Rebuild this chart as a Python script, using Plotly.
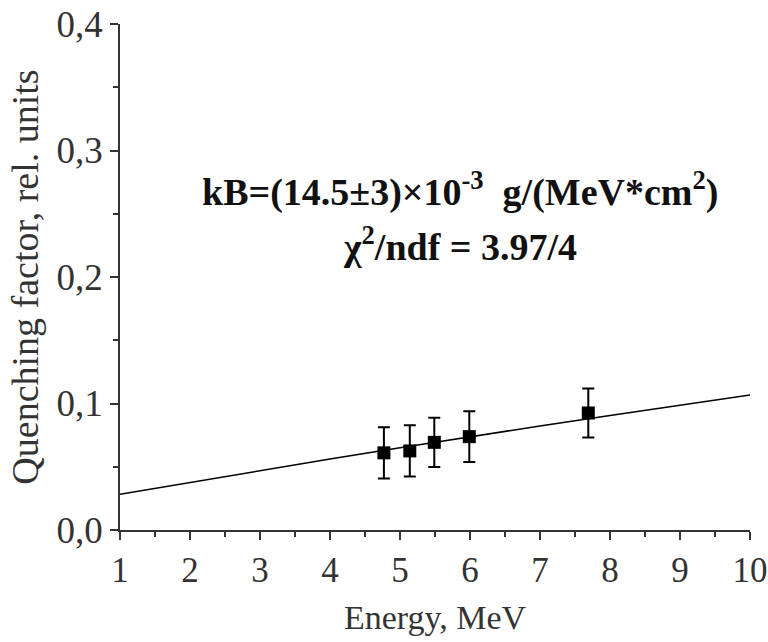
import plotly.graph_objects as go

# Data
energy = [4.77, 5.14, 5.49, 5.99, 7.69]
quench = [0.061, 0.0625, 0.0693, 0.0738, 0.0925]
quench_err = [0.0203, 0.0203, 0.0195, 0.020, 0.0194]

fit_energy = [1, 2, 3, 4, 5, 6, 7, 8, 9, 10]
fit_quench = [0.0282, 0.0377, 0.0470, 0.0561, 0.0650, 0.0737, 0.0822, 0.0905, 0.0987, 0.1067]

x_ticks = [1, 2, 3, 4, 5, 6, 7, 8, 9, 10]
y_ticks = [0.0, 0.1, 0.2, 0.3, 0.4]

FONT = "Liberation Serif, Times New Roman, DejaVu Serif, serif"

fig = go.Figure()
fig.add_trace(go.Scatter(
    x=fit_energy, y=fit_quench, mode="lines",
    line=dict(color="black", width=1.6), showlegend=False, hoverinfo="skip"))
fig.add_trace(go.Scatter(
    x=energy, y=quench, mode="markers",
    marker=dict(symbol="square", size=13, color="black"),
    error_y=dict(type="data", array=quench_err, visible=True,
                 color="black", thickness=2, width=6),
    showlegend=False))

fig.add_annotation(
    x=0.540, y=0.672, xref="paper", yref="paper",
    text="<b>kB=(14.5±3)×10<sup>-3</sup>  g/(MeV*cm<sup>2</sup>)</b>",
    showarrow=False, font=dict(family=FONT, size=38, color="#111"),
    xanchor="center", yanchor="middle")
fig.add_annotation(
    x=0.540, y=0.566, xref="paper", yref="paper",
    text="<b>χ<sup>2</sup>/ndf = 3.97/4</b>",
    showarrow=False, font=dict(family=FONT, size=38, color="#111"),
    xanchor="center", yanchor="middle")

def axis_common(tick_size):
    return dict(
        showline=True, linecolor="#333", linewidth=1.5,
        ticks="outside", ticklen=8, tickwidth=1.5, tickcolor="#333",
        showgrid=False, zeroline=False, mirror=False, automargin=False,
        tickfont=dict(family=FONT, size=tick_size, color="#333"),
    )

fig.update_layout(
    width=768, height=642,
    margin=dict(l=120, r=18, t=24, b=112),
    paper_bgcolor="white", plot_bgcolor="white",
    font=dict(family=FONT, color="#333"),
    separators=",.",
    xaxis=dict(range=[1, 10], tickvals=x_ticks, ticktext=[str(v) for v in x_ticks],
               minor=dict(ticks="outside", ticklen=5, tickwidth=1.5, tickcolor="#333", dtick=0.5),
               title=dict(text="Energy, MeV", font=dict(family=FONT, size=34, color="#333"), standoff=16),
               **axis_common(35)),
    yaxis=dict(range=[0, 0.4], tickvals=y_ticks, tickformat=".1f",
               minor=dict(ticks="outside", ticklen=5, tickwidth=1.5, tickcolor="#333", dtick=0.05),
               title=dict(text="Quenching factor, rel. units", font=dict(family=FONT, size=38, color="#333"), standoff=6),
               **axis_common(37)),
)

fig.write_html("out.html")
